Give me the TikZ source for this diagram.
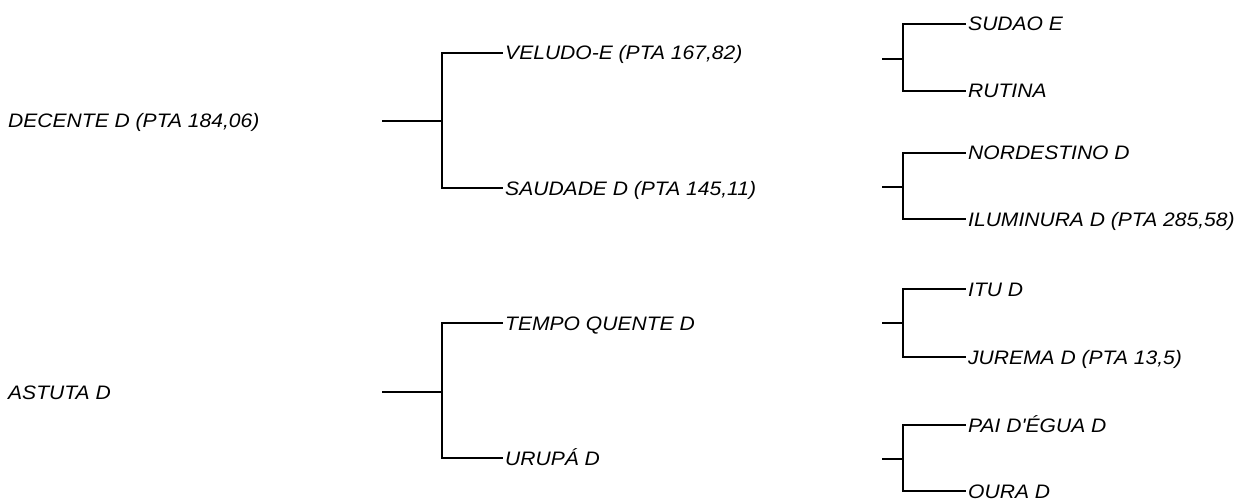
\documentclass[tikz,border=0pt]{standalone}
\usepackage{fontspec}
\newfontfamily\labfont{Liberation Sans}[FakeStretch=1.08]
\begin{document}
\begin{tikzpicture}[x=1pt,y=-1pt,
  lab/.style={anchor=west,inner xsep=2pt,inner ysep=0pt,text height=14pt,text depth=0pt,
    font=\labfont\itshape\fontsize{19.5}{21}\selectfont},
  br/.style={line width=2.8pt}]
\useasboundingbox (0,0) rectangle (1240,500);
% left labels
\node[lab,inner xsep=0pt] (decente) at (8,121) {DECENTE D (PTA 184,06)};
\node[lab,inner xsep=0pt] (astuta) at (8,392) {ASTUTA D};
% middle trees
\coordinate (m1r) at (382,121); \coordinate (m1j) at (442,121);
\node[lab] (veludo) at (503,53) {VELUDO-E (PTA 167,82)};
\node[lab] (saudade) at (503,188) {SAUDADE D (PTA 145,11)};
\draw[br] (m1r) -- (m1j) |- (veludo.west);
\draw[br] (m1j) |- (saudade.west);
\coordinate (m2r) at (382,392); \coordinate (m2j) at (442,392);
\node[lab] (tempo) at (503,323) {TEMPO QUENTE D};
\node[lab] (urupa) at (503,458) {URUPÁ D};
\draw[br] (m2r) -- (m2j) |- (tempo.west);
\draw[br] (m2j) |- (urupa.west);
% right trees
\coordinate (r1r) at (882,59); \coordinate (r1j) at (903,59);
\node[lab] (sudao) at (966,24) {SUDAO E};
\node[lab] (rutina) at (966,91) {RUTINA};
\draw[br] (r1r) -- (r1j) |- (sudao.west);
\draw[br] (r1j) |- (rutina.west);
\coordinate (r2r) at (882,187); \coordinate (r2j) at (903,187);
\node[lab] (nordestino) at (966,153) {NORDESTINO D};
\node[lab] (iluminura) at (966,219) {ILUMINURA D (PTA 285,58)};
\draw[br] (r2r) -- (r2j) |- (nordestino.west);
\draw[br] (r2j) |- (iluminura.west);
\coordinate (r3r) at (882,323); \coordinate (r3j) at (903,323);
\node[lab] (itu) at (966,289) {ITU D};
\node[lab] (jurema) at (966,357) {JUREMA D (PTA 13,5)};
\draw[br] (r3r) -- (r3j) |- (itu.west);
\draw[br] (r3j) |- (jurema.west);
\coordinate (r4r) at (882,459); \coordinate (r4j) at (903,459);
\node[lab] (pai) at (966,425) {PAI D'ÉGUA D};
\node[lab] (oura) at (966,491) {OURA D};
\draw[br] (r4r) -- (r4j) |- (pai.west);
\draw[br] (r4j) |- (oura.west);
\end{tikzpicture}
\end{document}
